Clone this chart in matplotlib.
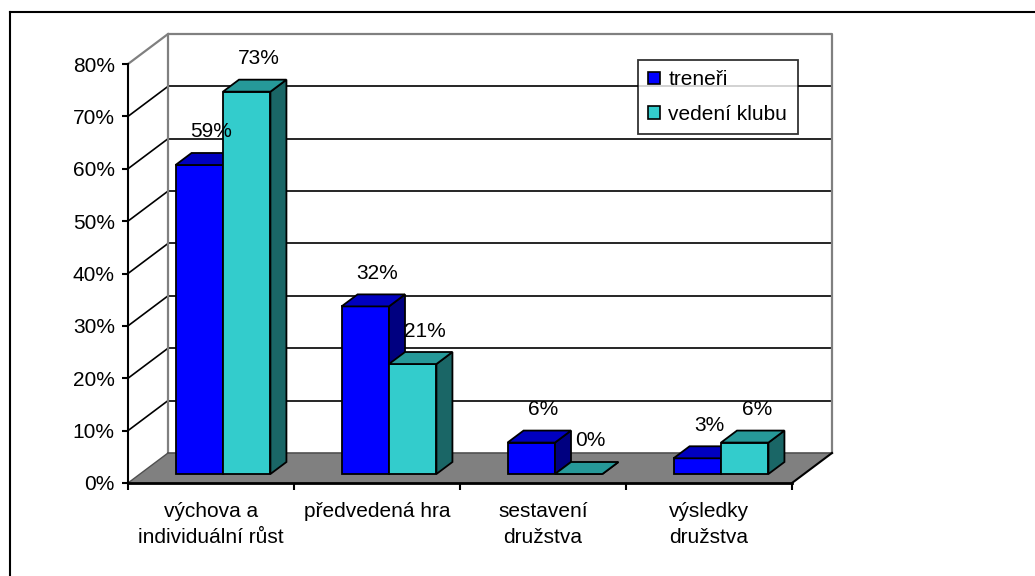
import matplotlib
matplotlib.use("Agg")
import matplotlib.pyplot as plt
from matplotlib.patches import Polygon, Rectangle, Patch
from matplotlib.lines import Line2D
import numpy as np

plt.rcParams['font.family'] = ['Liberation Sans', 'DejaVu Sans']

categories = ["výchova a\nindividuální růst", "předvedená hra", "sestavení\ndružstva", "výsledky\ndružstva"]
series_names = ["treneři", "vedení klubu"]
treneri = [59, 32, 6, 3]
vedeni_klubu = [73, 21, 0, 6]
y_ticks = [0, 10, 20, 30, 40, 50, 60, 70, 80]
y_tick_labels = [f"{v}%" for v in y_ticks]

series = [treneri, vedeni_klubu]
front_colors = ["#0000FF", "#33CCCC"]
top_colors = ["#0000C0", "#269999"]
side_colors = ["#000080", "#1A6666"]

W, H = 1035, 576
fig = plt.figure(figsize=(W / 100, H / 100), dpi=100)
ax = fig.add_axes([128 / W, (H - 483) / H, 664 / W, 419 / H])
ax.set_xlim(0, len(categories))
ax.set_ylim(0, 80)
fig.canvas.draw()

# depth vector (pixels) converted to data units
p0 = ax.transData.transform((0, 0))
DX, DY = ax.transData.inverted().transform(p0 + np.array([40.0, 30.0])) - np.array([0, 0])
n = len(categories)

# back wall
ax.add_patch(Rectangle((DX, DY), n, 80, facecolor="white", edgecolor="none", zorder=0, clip_on=False))
for v in y_ticks[1:-1]:
    ax.plot([DX, n + DX], [v + DY, v + DY], color="black", lw=1.2, zorder=1, clip_on=False)
    ax.plot([0, DX], [v, v + DY], color="black", lw=1.2, zorder=1, clip_on=False)
grey = "#808080"
ax.plot([DX, DX, n + DX, n + DX], [DY, 80 + DY, 80 + DY, DY], color=grey, lw=1.6, zorder=1, clip_on=False)
ax.plot([0, DX], [80, 80 + DY], color=grey, lw=1.6, zorder=1, clip_on=False)

# floor
ax.add_patch(Polygon([(0, 0), (n, 0), (n + DX, DY), (DX, DY)], closed=True,
                     facecolor=grey, edgecolor="none", zorder=2, clip_on=False))
ax.plot([DX, n + DX], [DY, DY], color="#505050", lw=1.2, zorder=2, clip_on=False)
ax.plot([0, DX], [0, DY], color="#505050", lw=1.0, zorder=2, clip_on=False)
ax.plot([n, n + DX], [0, DY], color="black", lw=1.5, zorder=2, clip_on=False)

# bars
w = 1 / 3.5
d0, d1 = 0.3, 0.7
z = 3
for i in range(n):
    for s, vals in enumerate(series):
        v = vals[i]
        xl = i + 0.75 * w + s * w
        xr = xl + w
        ax.bar(xl + d0 * DX, v, width=w, bottom=d0 * DY, align="edge",
               color=front_colors[s], edgecolor="black", linewidth=1.3, zorder=z, clip_on=False)
        ax.add_patch(Polygon([(xr + d0 * DX, d0 * DY), (xr + d1 * DX, d1 * DY),
                              (xr + d1 * DX, v + d1 * DY), (xr + d0 * DX, v + d0 * DY)],
                             closed=True, facecolor=side_colors[s], edgecolor="black",
                             linewidth=1.3, zorder=z, clip_on=False))
        ax.add_patch(Polygon([(xl + d0 * DX, v + d0 * DY), (xr + d0 * DX, v + d0 * DY),
                              (xr + d1 * DX, v + d1 * DY), (xl + d1 * DX, v + d1 * DY)],
                             closed=True, facecolor=top_colors[s], edgecolor="black",
                             linewidth=1.3, zorder=z, clip_on=False))
        z += 1
        ax.annotate(f"{v}%", xy=(xl + w / 2 + d0 * DX, v + d0 * DY), xytext=(12, 33),
                    textcoords="offset pixels", ha="center", va="center",
                    fontsize=15, zorder=20, annotation_clip=False)

# axes styling
for sp in ["top", "right"]:
    ax.spines[sp].set_visible(False)
ax.spines["left"].set_linewidth(1.5)
ax.spines["bottom"].set_linewidth(2.0)
ax.spines["left"].set_zorder(10)
ax.spines["bottom"].set_zorder(10)
ax.set_yticks(y_ticks)
ax.set_yticklabels(y_tick_labels)
ax.tick_params(axis="y", direction="out", length=4.5, width=1.5, labelsize=15, pad=5)
ax.set_xticks(range(n + 1))
ax.set_xticklabels([])
ax.tick_params(axis="x", which="major", direction="out", length=5, width=1.5)
ax.set_xticks([i + 0.5 for i in range(n)], minor=True)
ax.set_xticklabels(categories, minor=True, fontsize=15, linespacing=1.45)
ax.tick_params(axis="x", which="minor", length=0, pad=14)
ax.patch.set_visible(False)

# legend
handles = [Patch(facecolor=c, edgecolor="black", linewidth=1.2) for c in front_colors]
leg = fig.legend(handles, series_names, loc="upper left",
                 bbox_to_anchor=(638 / W, 1 - 60 / H), borderaxespad=0,
                 fontsize=15, frameon=True, fancybox=False, edgecolor="black",
                 handlelength=0.55, handleheight=0.55, handletextpad=0.4,
                 labelspacing=0.75, borderpad=0.5)
leg.get_frame().set_linewidth(1.3)
leg.set_zorder(30)

# outer chart border (cropped at right and bottom)
fig.add_artist(Line2D([10 / W, 1.0], [1 - 12 / H, 1 - 12 / H], color="black", lw=1.5))
fig.add_artist(Line2D([10 / W, 10 / W], [1 - 12 / H, 0], color="black", lw=1.5))

fig.savefig("out.png", dpi=100)
